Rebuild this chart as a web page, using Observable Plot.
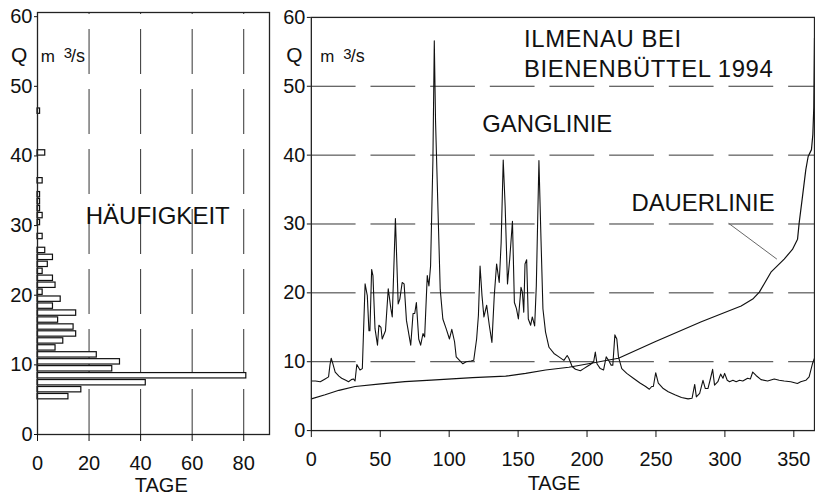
<!DOCTYPE html>
<html>
<head>
<meta charset="utf-8">
<script src="https://cdn.jsdelivr.net/npm/d3@7"></script>
<script src="https://cdn.jsdelivr.net/npm/@observablehq/plot@0.6"></script>
<style>
  html, body { margin: 0; padding: 0; background: #fff; overflow: hidden; width: 815px; height: 495px; }
  #wrap { position: relative; width: 815px; height: 495px; }
  #left, #right { position: absolute; top: 0; }
  #left { left: 0; }
  #right { left: 280px; }
  .title text { letter-spacing: 0.6px; }
</style>
</head>
<body>
<div id="wrap"><div id="left"></div><div id="right"></div></div>
<script>
// ---- Histogram (Häufigkeit): discharge class (m³/s) and number of days ----
const histClass = [5, 6, 7, 8, 9, 10, 11, 12, 13, 14, 15, 16, 17, 18, 19, 20, 21, 22, 23, 24, 25, 26, 28, 30, 31, 32, 33, 34, 36, 40, 46];
const histDays  = [12, 17, 42, 81, 29, 32, 23, 7, 10, 15, 14, 8, 15, 6, 9, 2, 7, 6, 2, 4, 6, 3, 2, 1, 2, 1, 1, 1, 2, 3, 1];

// ---- Ganglinie (daily discharge, 1994) ----
const gangDay = [0, 3, 6.5, 10, 12.5, 13.5, 14.4, 15.5, 17.3, 20, 22, 25, 27, 29, 30.5, 31.7, 33, 35.3, 37, 39, 40.6, 41.8, 42.5, 43.75, 44.7, 46.2, 48, 49, 50.5, 51.4, 53.8, 55.8, 57.7, 58.7, 61, 63, 64.2, 65.9, 67.3, 69, 72.1, 73.8, 75, 76.2, 77.9, 79.3, 81, 82.2, 84.1, 85.3, 86.5, 88.2, 89.2, 90.1, 91.8, 93.5, 95.4, 97.8, 100.2, 101.9, 103.9, 105.1, 107.5, 109.9, 112.3, 115.9, 117.8, 119.9, 121.2, 122.4, 123.8, 125.2, 127.2, 129.1, 131, 132.7, 134.4, 136.3, 137.7, 139.2, 140.6, 142.3, 143.9, 145.9, 147.3, 148.8, 150.2, 152.1, 153.1, 154.1, 155, 156.2, 157.4, 159.1, 160.3, 162, 163.2, 165.1, 166.6, 168, 169.9, 172.4, 176, 179.6, 183.2, 185.6, 186.8, 189.2, 191.6, 195.2, 197.6, 200, 202.4, 204.8, 206, 207.2, 209.6, 212, 213.9, 215.6, 217.5, 218.7, 220.2, 221.6, 222.8, 225.2, 228.8, 233.6, 238.4, 242.5, 245.2, 246.9, 248.1, 249.8, 251.7, 255.3, 258.9, 263.7, 268.5, 273.3, 276.2, 278.1, 279.3, 281.7, 284.1, 285.8, 287.7, 289.6, 291.1, 292.5, 294.9, 296.9, 298.6, 299.8, 301.7, 303.4, 305.8, 308.2, 310.6, 313, 316.5, 318.5, 320.2, 322.6, 326.2, 331, 335.8, 339.4, 343, 347.8, 352.6, 355, 358.7, 361.1, 363.5, 365];
const gangQ   = [7.2, 7.2, 7.1, 7.5, 7.8, 9.5, 10.5, 9.8, 8.5, 7.9, 7.6, 7.3, 7.1, 7.4, 7.5, 7.2, 9.6, 8.8, 9.0, 21.3, 19.6, 14.5, 14.5, 23.4, 22.5, 14.8, 12.4, 15.3, 15.0, 13.3, 14.5, 20.6, 17.7, 16.5, 30.8, 18.4, 19.1, 21.5, 21.3, 16, 12.4, 17, 17, 18.6, 13.3, 12.4, 14.1, 13.6, 22.5, 21, 23.9, 39.3, 56.6, 45, 32.6, 20.5, 16.2, 14.8, 13.3, 14.7, 12.9, 10.7, 10.2, 9.7, 10, 10.1, 10.2, 13.3, 16.7, 23.9, 19.6, 16.5, 18.2, 15.3, 12.8, 19.6, 24.2, 21.5, 27.3, 39.3, 32.6, 21.3, 24.9, 30.4, 18.6, 17.7, 16.2, 20.8, 20.1, 17.2, 24.2, 24.8, 16.2, 15.3, 16.5, 15.2, 21, 39.2, 27.8, 17.7, 14.3, 12.1, 11.2, 10.7, 10.2, 10.9, 10.5, 9.3, 8.9, 8.7, 9.0, 9.3, 9.6, 10.0, 11.4, 9.7, 9.0, 8.8, 10.7, 10.2, 9.5, 9.5, 13.9, 13.3, 10.7, 9.0, 8.3, 7.6, 6.9, 6.4, 6.0, 6.4, 6.4, 8.4, 6.9, 6.1, 5.65, 5.2, 4.8, 4.6, 4.7, 6.7, 4.9, 5.4, 7.3, 6.1, 6.1, 7.6, 8.9, 6.6, 7.1, 8.2, 7.6, 8.3, 7.3, 7.1, 7.3, 7.1, 7.3, 7.2, 7.6, 7.5, 8.5, 8.0, 7.4, 7.2, 7.5, 7.3, 7.2, 7.1, 6.85, 7.1, 7.3, 7.8, 9.7, 10.5];

// ---- Dauerlinie (flow duration curve) ----
const dauerDay = [0, 10, 20, 31.7, 48.6, 67.8, 87, 117, 141, 155.5, 170, 186.8, 201, 222.8, 249.3, 282.9, 311.8, 320.2, 325, 333.4, 343, 349, 352.7, 353.9, 356.3, 358.7, 360.4, 362.8, 363.8, 364.5, 365];
const dauerQ   = [4.6, 5.2, 5.85, 6.4, 6.75, 7.1, 7.33, 7.7, 7.9, 8.3, 8.8, 9.2, 9.7, 10.5, 12.9, 15.8, 18.1, 19.1, 20.1, 23.0, 24.9, 26.3, 27.8, 30.2, 34, 37.9, 39.8, 40.8, 43, 47, 57];

// ---- tick values ----
const qTicks = [0, 10, 20, 30, 40, 50, 60];
const histTicks = [0, 20, 40, 60, 80];
const dayTicks = [0, 50, 100, 150, 200, 250, 300, 350];
const qGrid = [10, 20, 30, 40, 50];
const histGrid = [20, 40, 60, 80];

const FONT = "'Liberation Sans', Arial, Helvetica, sans-serif";
const hist = histClass.map((k, i) => ({k, n: histDays[i]}));
const gang = gangDay.map((d, i) => ({d, q: gangQ[i]}));
const dauer = dauerDay.map((d, i) => ({d, q: dauerQ[i]}));

// ---------------- Left panel ----------------
const left = Plot.plot({
  width: 280, height: 495,
  marginLeft: 37, marginRight: 11, marginTop: 12, marginBottom: 61,
  style: {fontFamily: FONT, color: "#111", background: "transparent", overflow: "visible"},
  x: {domain: [0, 90]},
  y: {domain: [0, 60.6]},
  marks: [
    Plot.ruleX(histGrid, {y1: 0, y2: 60.6, stroke: "#333", strokeWidth: 1, strokeDasharray: "45,15"}),
    Plot.rectX(hist, {x1: 0, x2: "n", y1: d => d.k + 0.05, y2: d => d.k + 0.82, fill: "#fff", stroke: "#111", strokeWidth: 1.2}),
    Plot.frame({stroke: "#222", strokeWidth: 1.3}),
    Plot.axisX({ticks: histTicks, tickSize: 7, tickPadding: 14, fontSize: 20, label: null}),
    Plot.axisY({ticks: qTicks, tickSize: 3, tickPadding: 2, fontSize: 20, label: null}),
    Plot.text(["TAGE"], {x: 48, y: 0, dy: 57.5, lineAnchor: "bottom", textAnchor: "middle", fontSize: 20}),
    Plot.text(["Q"], {x: -7.1, y: 54.5, lineAnchor: "middle", textAnchor: "middle", fontSize: 21}),
    Plot.text(["m"], {x: 1.3, y: 53.5, lineAnchor: "bottom", textAnchor: "start", fontSize: 17}),
    Plot.text(["3"], {x: 10.2, y: 54.1, lineAnchor: "bottom", textAnchor: "start", fontSize: 15}),
    Plot.text(["/s"], {x: 13.0, y: 53.5, lineAnchor: "bottom", textAnchor: "start", fontSize: 18}),
    Plot.text(["HÄUFIGKEIT"], {x: 18.7, y: 30.2, lineAnchor: "bottom", textAnchor: "start", fontSize: 24})
  ]
});
document.getElementById("left").appendChild(left);

// ---------------- Right panel ----------------
const right = Plot.plot({
  width: 538, height: 495,
  marginLeft: 31, marginRight: 1, marginTop: 17, marginBottom: 62.5,
  style: {fontFamily: FONT, color: "#111", background: "transparent", overflow: "visible"},
  x: {domain: [0, 365]},
  y: {domain: [0, 60]},
  marks: [
    Plot.ruleY(qGrid, {x1: 0, x2: 365, stroke: "#333", strokeWidth: 1, strokeDasharray: "45,15"}),
    Plot.line(dauer, {x: "d", y: "q", stroke: "#111", strokeWidth: 1.2, clip: true}),
    Plot.line(gang, {x: "d", y: "q", stroke: "#111", strokeWidth: 1.1, clip: true}),
    Plot.link([{x1: 302.7, y1: 30.1, x2: 337.7, y2: 24.9}], {x1: "x1", y1: "y1", x2: "x2", y2: "y2", stroke: "#666", strokeWidth: 1}),
    Plot.frame({stroke: "#222", strokeWidth: 1.3}),
    Plot.axisX({ticks: dayTicks, tickSize: 7, tickPadding: 14, fontSize: 20, label: null}),
    Plot.axisY({ticks: qTicks, tickSize: 4, tickPadding: 2, fontSize: 20, label: null}),
    Plot.text(["TAGE"], {x: 176, y: 0, dy: 59.5, lineAnchor: "bottom", textAnchor: "middle", fontSize: 20}),
    Plot.text(["Q"], {x: -12.3, y: 54.5, lineAnchor: "middle", textAnchor: "middle", fontSize: 21}),
    Plot.text(["m"], {x: 6.5, y: 53.5, lineAnchor: "bottom", textAnchor: "start", fontSize: 17}),
    Plot.text(["3"], {x: 23.1, y: 54.0, lineAnchor: "bottom", textAnchor: "start", fontSize: 15}),
    Plot.text(["/s"], {x: 28.6, y: 53.5, lineAnchor: "bottom", textAnchor: "start", fontSize: 18}),
    Plot.text(["ILMENAU BEI", "BIENENBÜTTEL 1994"], {x: 154.3, y: [55.7, 51.3], lineAnchor: "bottom", textAnchor: "start", fontSize: 24, className: "title"}),
    Plot.text(["GANGLINIE"], {x: 124, y: 43.4, lineAnchor: "bottom", textAnchor: "start", fontSize: 24}),
    Plot.text(["DAUERLINIE"], {x: 232.2, y: 31.86, lineAnchor: "bottom", textAnchor: "start", fontSize: 24})
  ]
});
document.getElementById("right").appendChild(right);
</script>
</body>
</html>
